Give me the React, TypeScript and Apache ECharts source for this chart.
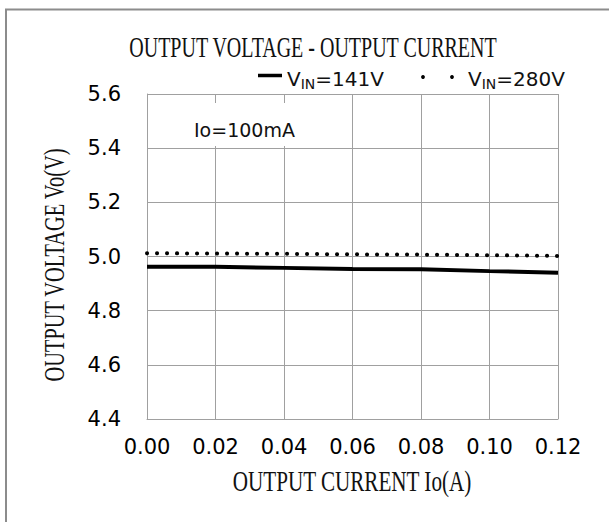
import React, { useEffect, useRef } from "react";
import * as echarts from "echarts";

// ---- data ----
const currents = [0, 0.02, 0.04, 0.06, 0.08, 0.1, 0.12];
const vout141 = [4.962, 4.962, 4.958, 4.954, 4.953, 4.946, 4.94];
const vout280 = [5.012, 5.011, 5.01, 5.008, 5.007, 5.005, 5.002];

const xMin = 0;
const xMax = 0.12;
const xStep = 0.02;
const yMin = 4.4;
const yMax = 5.6;
const yStep = 0.2;

const titleText = "OUTPUT VOLTAGE - OUTPUT CURRENT";
const xName = "OUTPUT CURRENT Io(A)";
const yName = "OUTPUT VOLTAGE Vo(V)";
const noteText = "Io=100mA";
const seriesNames = ["VIN=141V", "VIN=280V"];
const legendParts = [
  { base: "V", sub: "IN", rest: "=141V" },
  { base: "V", sub: "IN", rest: "=280V" },
];

const GRID = "#a0a0a0";
const SERIF = '"Liberation Serif", "Times New Roman", serif';
const SANS = '"DejaVu Sans", sans-serif';

export default function App() {
  const ref = useRef<HTMLDivElement>(null);

  useEffect(() => {
    if (!ref.current) return;
    const chart = echarts.init(ref.current, undefined, { renderer: "svg" });

    const pts141 = currents.map((c, i) => [c, vout141[i]]);
    const pts280 = currents.map((c, i) => [c, vout280[i]]);

    const serifText = (text: string, x: number, y: number, sx: number, rotation = 0) => ({
      type: "text",
      x,
      y,
      rotation,
      scaleX: sx,
      scaleY: 1.45,
      z: 10,
      style: {
        text,
        fontFamily: SERIF,
        fontSize: 20,
        fontWeight: "normal",
        fill: "#111",
        align: "center",
        verticalAlign: "middle",
      },
    });

    const legendItem = (p: { base: string; sub: string; rest: string }, x: number) => ({
      type: "text",
      x,
      y: 69,
      z: 10,
      style: {
        text: `{a|${p.base}}{b|${p.sub}}{a|${p.rest}}`,
        align: "left",
        verticalAlign: "top",
        rich: {
          a: { fontFamily: SANS, fontSize: 20, lineHeight: 22, fill: "#111", color: "#111", verticalAlign: "top" },
          b: {
            fontFamily: SANS,
            fontSize: 14,
            lineHeight: 14,
            fill: "#111",
            color: "#111",
            verticalAlign: "bottom",
            padding: [12, 0, 0, 0],
          },
        },
      },
    });

    const option: any = {
      animation: false,
      backgroundColor: "#fff",
      grid: { left: 147, top: 94, width: 411, height: 325, containLabel: false },
      xAxis: {
        type: "value",
        min: xMin,
        max: xMax,
        interval: xStep,
        axisLine: { show: true, lineStyle: { color: GRID, width: 1 } },
        axisTick: { show: false },
        splitLine: { show: true, lineStyle: { color: GRID, width: 1 } },
        axisLabel: {
          margin: 17,
          color: "#000",
          fontFamily: SANS,
          fontSize: 21,
          formatter: (v: number) => v.toFixed(2),
        },
      },
      yAxis: {
        type: "value",
        min: yMin,
        max: yMax,
        interval: yStep,
        axisLine: { show: true, lineStyle: { color: GRID, width: 1 } },
        axisTick: { show: false },
        splitLine: { show: true, lineStyle: { color: GRID, width: 1 } },
        axisLabel: {
          margin: 26,
          color: "#000",
          fontFamily: SANS,
          fontSize: 21,
          formatter: (v: number) => v.toFixed(1),
        },
      },
      series: [
        {
          name: seriesNames[0],
          type: "line",
          data: pts141,
          showSymbol: false,
          lineStyle: { color: "#000", width: 4, cap: "butt" },
          z: 3,
        },
        {
          name: seriesNames[1],
          type: "line",
          data: pts280,
          showSymbol: false,
          lineStyle: { color: "#000", width: 4, type: [0.1, 9.9], cap: "round" },
          z: 3,
        },
      ],
      graphic: [
        // outer frame (left and top edges)
        { type: "line", z: 10, shape: { x1: 6, y1: 9.5, x2: 6, y2: 522 }, style: { stroke: "#8c8c8c", lineWidth: 2 } },
        { type: "line", z: 10, shape: { x1: 5, y1: 9.5, x2: 609, y2: 9.5 }, style: { stroke: "#8c8c8c", lineWidth: 2 } },
        serifText(titleText, 313, 47, 1.0),
        serifText(xName, 352, 481, 1.056),
        serifText(yName, 54, 265, 1.02, Math.PI / 2),
        // legend
        { type: "line", z: 10, shape: { x1: 258, y1: 75.5, x2: 282, y2: 75.5 }, style: { stroke: "#000", lineWidth: 3.5 } },
        legendItem(legendParts[0], 287),
        { type: "circle", z: 10, shape: { cx: 423, cy: 77, r: 1.9 }, style: { fill: "#000" } },
        { type: "circle", z: 10, shape: { cx: 452, cy: 77, r: 1.9 }, style: { fill: "#000" } },
        legendItem(legendParts[1], 468),
        // note box
        { type: "rect", z: 9, shape: { x: 188, y: 103, width: 112, height: 43 }, style: { fill: "#fff" } },
        {
          type: "text",
          x: 194,
          y: 130,
          z: 10,
          style: { text: noteText, fontFamily: SANS, fontSize: 19, fill: "#111", align: "left", verticalAlign: "middle" },
        },
      ],
    };

    chart.setOption(option);
    return () => chart.dispose();
  }, []);

  return (
    <div
      ref={ref}
      style={{ position: "fixed", left: 0, top: 0, width: 609, height: 522, background: "#fff" }}
    />
  );
}
